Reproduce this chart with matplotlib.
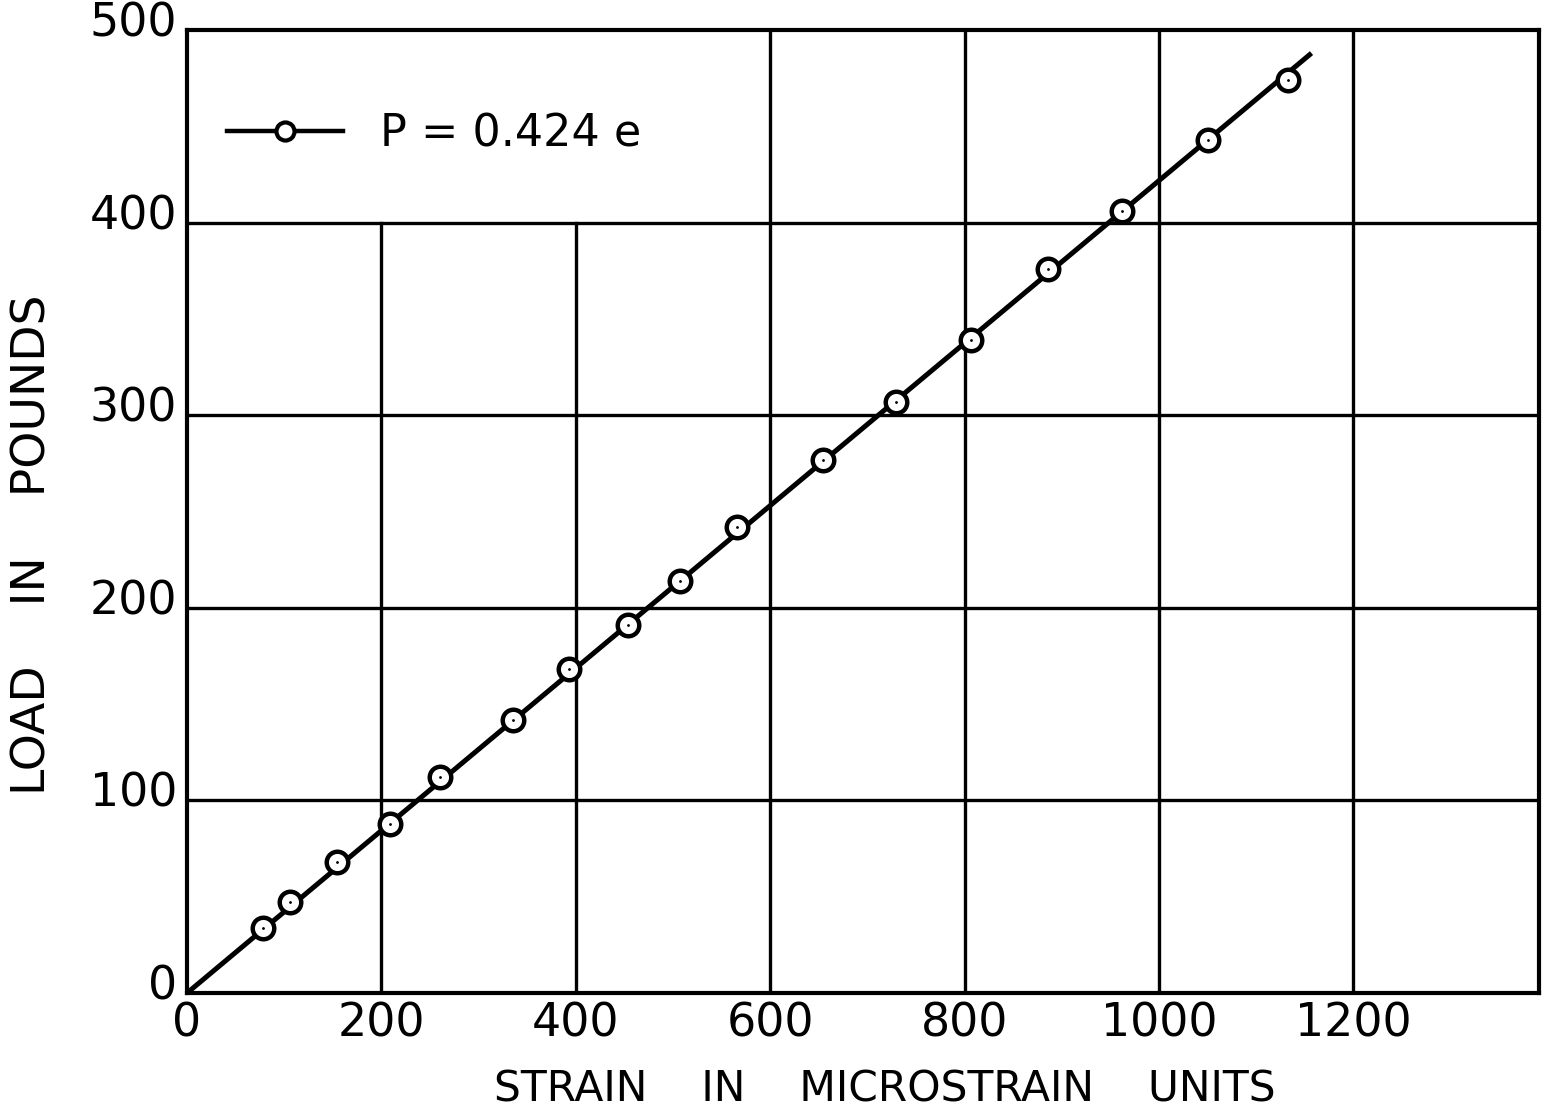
import matplotlib

matplotlib.use("Agg")
import matplotlib.pyplot as plt
import matplotlib.transforms as mtransforms

# strain (microstrain) and load (pounds)
strain = [78, 106, 154, 209, 260, 335, 393, 454, 507, 566,
          654, 729, 807, 886, 962, 1050, 1133]
load = [34, 47, 68, 88, 112, 142, 168, 191, 214, 242,
        277, 307, 339, 376, 406, 443, 474]

# fitted line P = 0.424 e, drawn from the origin to its end point
fit_strain = [0, 1157]
fit_load = [0, 488]

x_ticks = [0, 200, 400, 600, 800, 1000, 1200]
y_ticks = [0, 100, 200, 300, 400, 500]

plt.rcParams["font.family"] = ["DejaVu Sans"]

fig = plt.figure(figsize=(15.42, 11.16), dpi=100)
ax = fig.add_axes([0.1213, 0.1102, 0.8767, 0.8629])

ax.set_xlim(0, 1391)
ax.set_ylim(0, 500)

# grid: the legend box hides the two left vertical lines above 400
for x in x_ticks[1:]:
    top = 400 if x < 600 else 500
    ax.plot([x, x], [0, top], color="black", lw=2.4, zorder=1)
for y in y_ticks[1:-1]:
    ax.axhline(y, color="black", lw=2.4, zorder=1)

ax.plot(fit_strain, fit_load, color="black", lw=3.6, zorder=2,
        solid_capstyle="butt")
ax.plot(strain, load, linestyle="none", marker="o", ms=15.5,
        mfc="white", mec="black", mew=3.2, zorder=3)
ax.plot(strain, load, linestyle="none", marker=".", ms=2,
        color="black", zorder=4)

# legend sample
handle, = ax.plot([], [], color="black", lw=3.2, marker="o", ms=13,
                  mfc="white", mec="black", mew=3.0)
leg = ax.legend([handle], ["P = 0.424 e"], loc="upper left",
                bbox_to_anchor=(0.0, 0.956), frameon=False,
                fontsize=32, handlelength=2.6, handletextpad=0.85,
                numpoints=1)

for side in ax.spines.values():
    side.set_linewidth(3.0)

ax.set_xticks(x_ticks)
ax.set_yticks(y_ticks)
ax.set_xticklabels([str(v) for v in x_ticks])
ax.set_yticklabels([str(v) for v in y_ticks])
ax.tick_params(length=0, labelsize=33)
ax.tick_params(axis="y", pad=7)
ax.tick_params(axis="x", pad=6)

# labels sit a little above their grid lines in the original
shift = mtransforms.ScaledTranslation(0, 8 / 72, fig.dpi_scale_trans)
for lab in ax.get_yticklabels():
    lab.set_transform(lab.get_transform() + shift)

fig.text(885 / 1542, 1 - 1090 / 1116,
         "STRAIN    IN    MICROSTRAIN    UNITS",
         ha="center", va="center", fontsize=30.5)
fig.text(33 / 1542, 1 - 545 / 1116, "LOAD    IN    POUNDS",
         ha="center", va="center", rotation=90, fontsize=34)

fig.savefig("out.png", dpi=100, facecolor="white")
